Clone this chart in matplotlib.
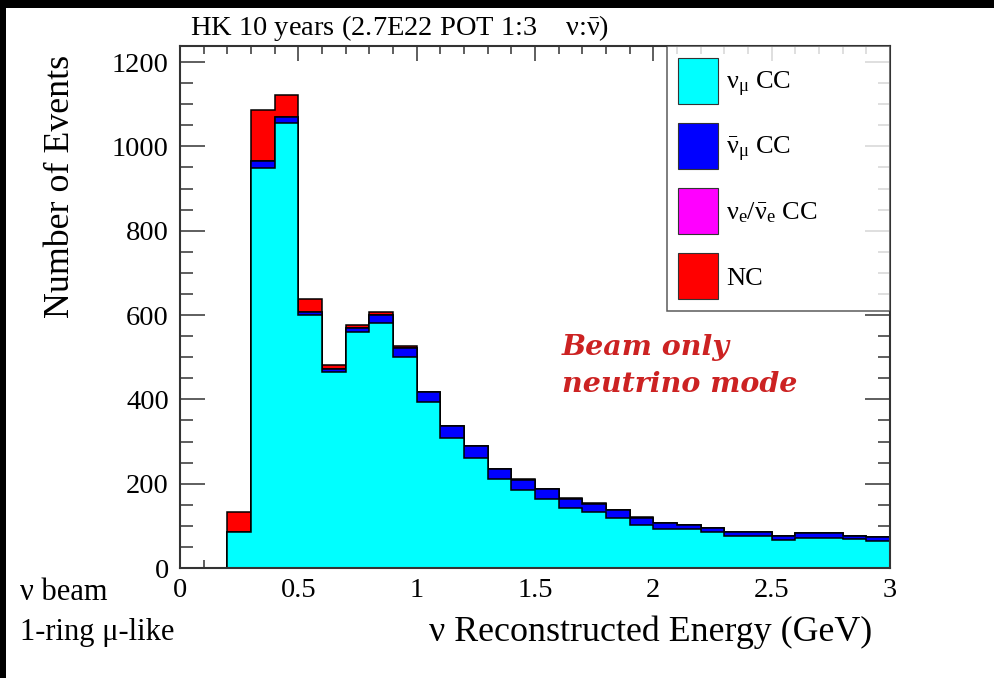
import matplotlib
matplotlib.use("Agg")
import matplotlib.pyplot as plt
import numpy as np
from matplotlib.patches import Patch, Rectangle

plt.rcParams["font.family"] = ["Liberation Serif", "DejaVu Serif"]
plt.rcParams["mathtext.fontset"] = "custom"
plt.rcParams["mathtext.rm"] = "Liberation Serif"
plt.rcParams["mathtext.it"] = "Liberation Serif:italic"

# 30 bins of 0.1 GeV in reconstructed energy
bin_edges = np.round(np.arange(0, 3.01, 0.1), 2)

numu_cc = [0, 0, 86, 948, 1056, 599, 464, 559, 582, 501,
           393, 309, 262, 211, 184, 163, 143, 133, 119, 102,
           92, 92, 85, 75, 75, 66, 71, 71, 68, 65]
numubar_cc = [0, 0, 0, 17, 14, 9, 9, 11, 18, 22,
              24, 27, 27, 24, 24, 24, 21, 19, 18, 17,
              14, 11, 11, 11, 11, 11, 11, 11, 9, 8]
nue_cc = [0] * 30
nc = [0, 0, 47, 121, 52, 29, 8, 6, 7, 3,
      1, 1, 1, 1, 2, 1, 1, 2, 1, 1,
      1, 0, 0, 0, 0, 0, 0, 0, 0, 0]

components = [
    (numu_cc, "#00ffff", r"$\mathrm{ν}_{\mathrm{μ}}$ CC"),
    (numubar_cc, "#0000ff", r"$\bar{\mathrm{ν}}_{\mathrm{μ}}$ CC"),
    (nue_cc, "#ff00ff", r"$\mathrm{ν}_{\mathrm{e}}/\bar{\mathrm{ν}}_{\mathrm{e}}$ CC"),
    (nc, "#ff0000", "NC"),
]

fig = plt.figure(figsize=(9.9401, 6.7801), dpi=100, facecolor="white")
ax = fig.add_axes([180 / 994, 1 - 568 / 678, 710 / 994, 521.5 / 678])

# stacked: draw cumulative totals, largest first, each filled from zero
cum = np.cumsum([np.array(c[0], float) for c in components], axis=0)
for i in reversed(range(len(components))):
    ax.stairs(cum[i], bin_edges, fill=True, baseline=0,
              facecolor=components[i][1], edgecolor="none", zorder=2 + (3 - i))
    ax.stairs(cum[i], bin_edges, fill=False, baseline=0,
              color="black", linewidth=1.1, zorder=2 + (3 - i))

ax.set_xlim(0, 3)
ax.set_ylim(0, 1237)
ax.set_xticks(np.arange(0, 3.01, 0.5))
ax.set_xticklabels(["0", "0.5", "1", "1.5", "2", "2.5", "3"])
ax.set_xticks(np.arange(0, 3.01, 0.1), minor=True)
ax.set_yticks(np.arange(0, 1201, 200))
ax.set_yticks(np.arange(0, 1201, 50), minor=True)

ax.tick_params(which="both", direction="in", top=True, right=True,
               colors="#333333", labelcolor="black", labelsize=20.5, width=1.1)
ax.tick_params(axis="x", which="major", length=11, pad=7)
ax.tick_params(axis="x", which="minor", length=6)
ax.tick_params(axis="y", which="major", length=18, pad=8)
ax.tick_params(axis="y", which="minor", length=9)
for s in ax.spines.values():
    s.set_color("#333333")
    s.set_linewidth(1.5)
    s.set_zorder(10)

handles = [Patch(facecolor=c[1], edgecolor="#333333", linewidth=0.8, label=c[2])
           for c in components]
leg = ax.legend(handles=handles, loc="upper left",
                bbox_to_anchor=(487 / 710, 0, 223 / 710, 1), mode="expand",
                borderaxespad=0, fontsize=19, frameon=True, fancybox=False,
                handlelength=1.52, handleheight=2.3, labelspacing=0.73,
                borderpad=0.43, handletextpad=0.3)
leg.get_frame().set_edgecolor("#333333")
leg.get_frame().set_linewidth(1.1)
leg.set_zorder(20)

fig.text(190 / 994, 1 - 28 / 678,
         r"HK 10 years (2.7E22 POT 1:3    $\mathrm{ν}$:$\bar{\mathrm{ν}}$)",
         fontsize=20.5, ha="left", va="center")
fig.text(60 / 994, 1 - 186 / 678, "Number of Events", fontsize=25.8,
         rotation=90, ha="center", va="center")
fig.text(872 / 994, 1 - 632 / 678, "ν Reconstructed Energy (GeV)", fontsize=25.8,
         ha="right", va="center")
fig.text(20 / 994, 1 - 592 / 678, "ν beam", fontsize=22, ha="left", va="center")
fig.text(20 / 994, 1 - 632 / 678, "1-ring μ-like", fontsize=22, ha="left", va="center")

note_style = dict(transform=fig.transFigure, family="DejaVu Serif", weight="bold",
                  style="italic", fontsize=20.5, color="#cc2222", ha="left",
                  va="baseline", zorder=15)
ax.text(562 / 994, 1 - 355 / 678, "Beam only", **note_style)
ax.text(562 / 994, 1 - 392 / 678, "neutrino mode", **note_style)

# black strips along the top and left edges
fig.add_artist(Rectangle((0, 1 - 8 / 678), 1, 8 / 678, transform=fig.transFigure,
                         facecolor="black", edgecolor="none"))
fig.add_artist(Rectangle((0, 0), 6 / 994, 1, transform=fig.transFigure,
                         facecolor="black", edgecolor="none"))

fig.savefig("out.png", dpi=100)
